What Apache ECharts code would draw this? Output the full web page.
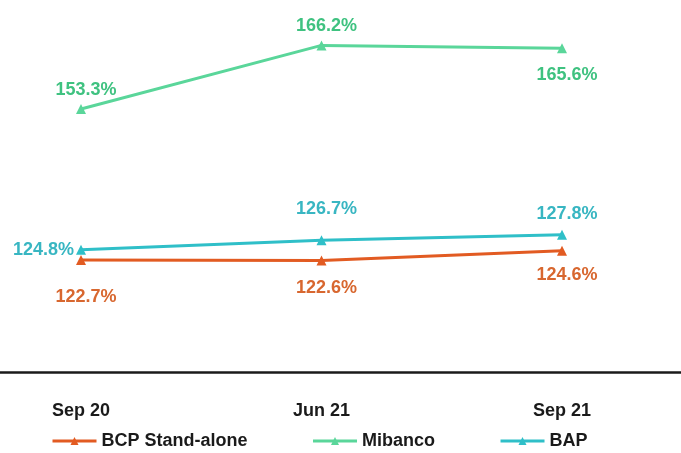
<!DOCTYPE html>
<html>
<head>
<meta charset="utf-8">
<script src="https://cdn.jsdelivr.net/npm/echarts@6/dist/echarts.min.js"></script>
<style>
  html, body { margin: 0; padding: 0; background: #fff; }
  #chart { width: 681px; height: 453px; }
</style>
</head>
<body>
<div id="chart"></div>
<script>
// categories and values
const periods = ['Sep 20', 'Jun 21', 'Sep 21'];
const bcpStandAlone = [122.7, 122.6, 124.6];
const mibanco = [153.3, 166.2, 165.6];
const bap = [124.8, 126.7, 127.8];

const FONT = '"Liberation Sans", Arial, sans-serif';

const chart = echarts.init(document.getElementById('chart'));

// label placement per point (style only)
const bcpLabel = [['bottom', 23], ['bottom', 14], ['bottom', 10]];
const mibancoLabel = [['top', 5], ['top', 5], ['bottom', 13]];
const bapLabel = [['left', 2], ['top', 17], ['top', 7]];

const toPoints = (arr, lbl) => arr.map((v, i) => ({
  value: [i, v],
  label: { position: lbl[i][0], distance: lbl[i][1], offset: lbl[i][0] === 'left' ? [0, 0] : [5, 0] }
}));

const labelStyle = (color) => ({
  show: true,
  formatter: p => p.value[1].toFixed(1) + '%',
  fontFamily: FONT, fontWeight: 'bold', fontSize: 18, color: color
});

chart.setOption({
  animation: false,
  grid: { left: 0, right: 0, top: 2, bottom: 81 },
  xAxis: {
    type: 'value',
    min: -0.3368,
    max: 2.4948,
    splitLine: { show: false },
    axisLine: { onZero: false, lineStyle: { color: '#1a1a1a', width: 2.5 } },
    axisTick: { show: false },
    axisLabel: {
      customValues: [0, 1, 2],
      formatter: v => periods[v],
      margin: 30, fontFamily: FONT, fontWeight: 'bold', fontSize: 18, color: '#1a1a1a'
    }
  },
  yAxis: {
    type: 'value',
    min: 100,
    max: 175,
    show: false,
    splitLine: { show: false }
  },
  legend: {
    left: 46,
    top: 427,
    itemGap: 64,
    itemWidth: 44,
    itemHeight: 10,
    lineStyle: { width: 3 },
    textStyle: { fontFamily: FONT, fontWeight: 'bold', fontSize: 18, color: '#1a1a1a' },
    data: ['BCP Stand-alone', 'Mibanco', 'BAP']
  },
  series: [
    {
      name: 'BCP Stand-alone',
      type: 'line',
      data: toPoints(bcpStandAlone, bcpLabel),
      color: '#e25b22',
      lineStyle: { width: 3 },
      symbol: 'triangle',
      symbolSize: 10,
      label: labelStyle('#d8672f')
    },
    {
      name: 'Mibanco',
      type: 'line',
      data: toPoints(mibanco, mibancoLabel),
      color: '#5ad69a',
      lineStyle: { width: 3 },
      symbol: 'triangle',
      symbolSize: 10,
      label: labelStyle('#3fc280')
    },
    {
      name: 'BAP',
      type: 'line',
      data: toPoints(bap, bapLabel),
      color: '#2fbfc8',
      lineStyle: { width: 3 },
      symbol: 'triangle',
      symbolSize: 10,
      label: labelStyle('#38b6c2')
    }
  ]
});
</script>
</body>
</html>
